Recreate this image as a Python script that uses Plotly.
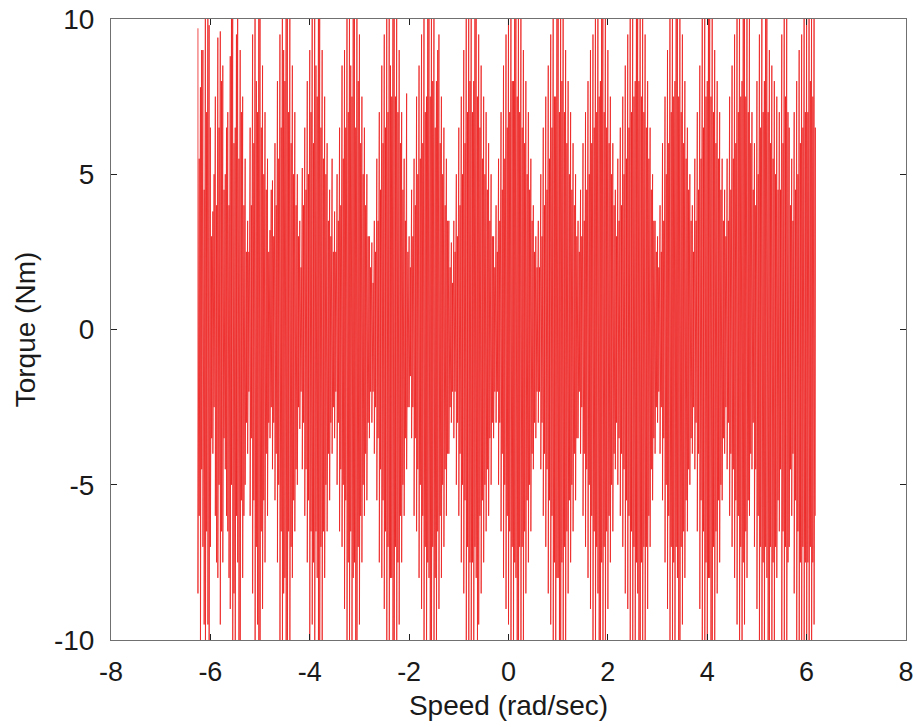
import plotly.graph_objects as go

# Speed sample positions (rad/sec) of the main peaks
speed = [
    -6.25, -6.20, -6.15, -6.10, -6.05, -6.00, -5.95, -5.90, -5.85, -5.80,
    -5.75, -5.70, -5.65, -5.60, -5.55, -5.50, -5.45, -5.40, -5.35, -5.30,
    -5.25, -5.20, -5.15, -5.10, -5.05, -5.00, -4.95, -4.90, -4.85, -4.80,
    -4.75, -4.70, -4.65, -4.60, -4.55, -4.50, -4.45, -4.40, -4.35, -4.30,
    -4.25, -4.20, -4.15, -4.10, -4.05, -4.00, -3.95, -3.90, -3.85, -3.80,
    -3.75, -3.70, -3.65, -3.60, -3.55, -3.50, -3.45, -3.40, -3.35, -3.30,
    -3.25, -3.20, -3.15, -3.10, -3.05, -3.00, -2.95, -2.90, -2.85, -2.80,
    -2.75, -2.70, -2.65, -2.60, -2.55, -2.50, -2.45, -2.40, -2.35, -2.30,
    -2.25, -2.20, -2.15, -2.10, -2.05, -2.00, -1.95, -1.90, -1.85, -1.80,
    -1.75, -1.70, -1.65, -1.60, -1.55, -1.50, -1.45, -1.40, -1.35, -1.30,
    -1.25, -1.20, -1.15, -1.10, -1.05, -1.00, -0.95, -0.90, -0.85, -0.80,
    -0.75, -0.70, -0.65, -0.60, -0.55, -0.50, -0.45, -0.40, -0.35, -0.30,
    -0.25, -0.20, -0.15, -0.10, -0.05, 0.00, 0.05, 0.10, 0.15, 0.20,
    0.25, 0.30, 0.35, 0.40, 0.45, 0.50, 0.55, 0.60, 0.65, 0.70,
    0.75, 0.80, 0.85, 0.90, 0.95, 1.00, 1.05, 1.10, 1.15, 1.20,
    1.25, 1.30, 1.35, 1.40, 1.45, 1.50, 1.55, 1.60, 1.65, 1.70,
    1.75, 1.80, 1.85, 1.90, 1.95, 2.00, 2.05, 2.10, 2.15, 2.20,
    2.25, 2.30, 2.35, 2.40, 2.45, 2.50, 2.55, 2.60, 2.65, 2.70,
    2.75, 2.80, 2.85, 2.90, 2.95, 3.00, 3.05, 3.10, 3.15, 3.20,
    3.25, 3.30, 3.35, 3.40, 3.45, 3.50, 3.55, 3.60, 3.65, 3.70,
    3.75, 3.80, 3.85, 3.90, 3.95, 4.00, 4.05, 4.10, 4.15, 4.20,
    4.25, 4.30, 4.35, 4.40, 4.45, 4.50, 4.55, 4.60, 4.65, 4.70,
    4.75, 4.80, 4.85, 4.90, 4.95, 5.00, 5.05, 5.10, 5.15, 5.20,
    5.25, 5.30, 5.35, 5.40, 5.45, 5.50, 5.55, 5.60, 5.65, 5.70,
    5.75, 5.80, 5.85, 5.90, 5.95, 6.00, 6.05, 6.10, 6.15,
]

# Speed sample positions (rad/sec) of the secondary peaks
speed_mid = [
    -6.225, -6.175, -6.125, -6.075, -6.025, -5.975, -5.925, -5.875, -5.825, -5.775,
    -5.725, -5.675, -5.625, -5.575, -5.525, -5.475, -5.425, -5.375, -5.325, -5.275,
    -5.225, -5.175, -5.125, -5.075, -5.025, -4.975, -4.925, -4.875, -4.825, -4.775,
    -4.725, -4.675, -4.625, -4.575, -4.525, -4.475, -4.425, -4.375, -4.325, -4.275,
    -4.225, -4.175, -4.125, -4.075, -4.025, -3.975, -3.925, -3.875, -3.825, -3.775,
    -3.725, -3.675, -3.625, -3.575, -3.525, -3.475, -3.425, -3.375, -3.325, -3.275,
    -3.225, -3.175, -3.125, -3.075, -3.025, -2.975, -2.925, -2.875, -2.825, -2.775,
    -2.725, -2.675, -2.625, -2.575, -2.525, -2.475, -2.425, -2.375, -2.325, -2.275,
    -2.225, -2.175, -2.125, -2.075, -2.025, -1.975, -1.925, -1.875, -1.825, -1.775,
    -1.725, -1.675, -1.625, -1.575, -1.525, -1.475, -1.425, -1.375, -1.325, -1.275,
    -1.225, -1.175, -1.125, -1.075, -1.025, -0.975, -0.925, -0.875, -0.825, -0.775,
    -0.725, -0.675, -0.625, -0.575, -0.525, -0.475, -0.425, -0.375, -0.325, -0.275,
    -0.225, -0.175, -0.125, -0.075, -0.025, 0.025, 0.075, 0.125, 0.175, 0.225,
    0.275, 0.325, 0.375, 0.425, 0.475, 0.525, 0.575, 0.625, 0.675, 0.725,
    0.775, 0.825, 0.875, 0.925, 0.975, 1.025, 1.075, 1.125, 1.175, 1.225,
    1.275, 1.325, 1.375, 1.425, 1.475, 1.525, 1.575, 1.625, 1.675, 1.725,
    1.775, 1.825, 1.875, 1.925, 1.975, 2.025, 2.075, 2.125, 2.175, 2.225,
    2.275, 2.325, 2.375, 2.425, 2.475, 2.525, 2.575, 2.625, 2.675, 2.725,
    2.775, 2.825, 2.875, 2.925, 2.975, 3.025, 3.075, 3.125, 3.175, 3.225,
    3.275, 3.325, 3.375, 3.425, 3.475, 3.525, 3.575, 3.625, 3.675, 3.725,
    3.775, 3.825, 3.875, 3.925, 3.975, 4.025, 4.075, 4.125, 4.175, 4.225,
    4.275, 4.325, 4.375, 4.425, 4.475, 4.525, 4.575, 4.625, 4.675, 4.725,
    4.775, 4.825, 4.875, 4.925, 4.975, 5.025, 5.075, 5.125, 5.175, 5.225,
    5.275, 5.325, 5.375, 5.425, 5.475, 5.525, 5.575, 5.625, 5.675, 5.725,
    5.775, 5.825, 5.875, 5.925, 5.975, 6.025, 6.075, 6.125, 6.175,
]

# Main positive torque peaks (Nm)
torque_hi = [
    9.7, 7.8, 9.0, 11.5, 10.8, 6.5, 3.8, 7.5, 9.4, 9.6,
    8.5, 5.0, 7.0, 8.8, 11.0, 6.5, 11.2, 9.0, 7.5, 5.5,
    3.5, 6.5, 9.5, 11.0, 7.0, 11.2, 8.5, 7.0, 5.5, 3.2,
    4.8, 6.0, 8.0, 9.5, 11.0, 8.0, 11.3, 10.5, 8.5, 7.0,
    5.0, 3.5, 5.2, 6.5, 8.0, 9.0, 10.5, 11.2, 7.5, 10.5,
    9.0, 7.5, 6.0, 4.5, 5.5, 3.8, 5.0, 6.5, 8.5, 9.0,
    10.5, 11.2, 7.5, 10.8, 11.0, 9.5, 7.5, 6.5, 5.0, 3.0,
    2.8, 3.5, 5.5, 7.0, 8.5, 9.5, 10.5, 11.2, 7.5, 11.3,
    10.5, 9.0, 7.0, 5.5, 7.6, 3.0, 4.5, 5.5, 7.5, 8.5,
    9.5, 10.8, 7.5, 11.0, 11.3, 10.5, 8.0, 9.5, 7.5, 6.5,
    5.5, 3.5, 2.8, 3.5, 5.0, 6.5, 7.5, 9.0, 10.5, 11.2,
    11.0, 8.0, 11.3, 9.5, 8.5, 7.5, 7.0, 6.0, 5.0, 3.0,
    4.0, 5.5, 7.0, 8.5, 9.5, 10.5, 11.2, 8.0, 11.3, 10.5,
    10.0, 9.0, 8.0, 7.0, 5.5, 4.0, 3.0, 3.5, 5.0, 6.5,
    7.5, 8.5, 9.5, 11.0, 7.5, 10.8, 11.2, 10.5, 9.0, 8.0,
    7.0, 6.0, 5.0, 3.5, 4.5, 6.0, 7.0, 8.0, 9.0, 9.5,
    10.5, 11.2, 8.0, 11.3, 10.5, 9.0, 7.5, 6.0, 4.5, 5.5,
    6.5, 7.5, 8.5, 9.5, 10.5, 11.2, 8.0, 11.3, 11.0, 10.5,
    9.5, 8.0, 6.5, 5.0, 3.5, 3.0, 4.0, 6.0, 7.5, 9.0,
    10.5, 11.2, 8.0, 11.3, 10.8, 9.5, 8.0, 6.5, 5.0, 4.0,
    5.5, 7.0, 8.5, 10.0, 11.0, 8.0, 11.3, 10.5, 9.0, 8.0,
    7.0, 5.5, 4.5, 5.5, 7.5, 8.5, 9.5, 10.5, 11.2, 8.0,
    11.0, 10.8, 11.2, 7.0, 6.0, 8.0, 9.5, 11.0, 8.0, 10.5,
    9.0, 8.5, 8.0, 7.5, 7.0, 9.5, 11.0, 11.2, 6.5, 5.5,
    7.0, 8.0, 9.0, 9.5, 10.0, 10.5, 11.2, 11.0, 10.5,
]

# Main negative torque peaks (Nm)
torque_lo = [
    -8.5, -10.5, -7.0, -11.0, -9.5, -7.0, -4.0, -6.0, -8.0, -9.5,
    -7.5, -4.5, -6.5, -9.0, -10.5, -11.0, -7.5, -10.8, -8.0, -5.0,
    -4.0, -6.0, -8.5, -11.0, -9.5, -10.5, -9.0, -7.5, -6.0, -3.5,
    -4.5, -5.5, -7.5, -10.5, -11.0, -8.0, -11.0, -10.5, -8.0, -6.5,
    -5.0, -3.2, -4.5, -6.0, -7.5, -10.5, -9.5, -11.0, -8.0, -10.8,
    -10.5, -8.0, -6.5, -5.5, -4.0, -3.5, -5.0, -6.5, -7.0, -9.0,
    -10.0, -11.0, -10.5, -7.5, -11.0, -9.5, -7.5, -6.0, -5.5, -3.5,
    -3.0, -4.0, -5.5, -7.5, -8.0, -9.0, -10.5, -11.0, -8.0, -10.5,
    -11.0, -9.5, -7.5, -6.0, -4.5, -2.5, -3.5, -6.0, -6.5, -8.0,
    -9.0, -10.5, -11.0, -8.0, -10.8, -11.0, -10.5, -9.0, -8.0, -7.0,
    -6.0, -4.0, -3.0, -3.5, -5.0, -6.0, -7.5, -8.5, -10.5, -11.0,
    -10.8, -11.2, -8.0, -9.5, -8.5, -7.5, -6.5, -6.0, -5.0, -3.5,
    -3.0, -5.0, -6.5, -8.0, -9.0, -9.5, -10.5, -11.0, -8.0, -11.2,
    -11.0, -10.0, -8.5, -7.5, -6.5, -4.5, -3.5, -3.0, -4.5, -6.0,
    -7.0, -8.5, -9.5, -10.5, -11.0, -8.0, -11.0, -10.8, -10.0, -8.5,
    -7.5, -6.5, -5.5, -3.5, -4.0, -6.0, -7.0, -8.0, -9.0, -10.5,
    -11.0, -8.5, -10.8, -11.0, -10.5, -9.0, -7.5, -6.5, -4.5, -5.0,
    -6.0, -7.0, -8.5, -9.0, -10.0, -10.5, -11.0, -8.5, -11.0, -10.8,
    -11.0, -9.0, -7.0, -5.5, -4.0, -3.0, -4.0, -5.5, -7.5, -9.0,
    -10.5, -11.0, -11.2, -8.0, -10.8, -9.5, -8.0, -6.5, -5.0, -4.0,
    -4.5, -6.5, -9.0, -10.5, -11.0, -11.2, -8.0, -10.8, -10.5, -8.5,
    -7.5, -5.5, -4.0, -4.5, -6.0, -7.0, -8.0, -9.5, -10.8, -11.0,
    -9.5, -8.0, -6.0, -4.5, -7.0, -9.0, -10.5, -11.0, -11.2, -8.0,
    -10.8, -11.0, -10.5, -8.0, -6.5, -10.0, -11.0, -10.5, -7.0, -6.0,
    -8.5, -10.5, -11.0, -10.5, -11.0, -11.2, -10.8, -11.0, -9.5,
]

# Secondary positive torque peaks (Nm)
torque_hi2 = [
    5.5, 9.0, 4.5, 7.0, 9.8, 3.0, 5.0, 4.0, 6.5, 8.0,
    4.5, 6.5, 4.0, 10.0, 6.0, 9.5, 5.5, 7.0, 4.0, 2.5,
    2.5, 4.0, 6.0, 8.0, 10.0, 6.5, 5.0, 4.5, 2.5, 4.5,
    3.0, 4.0, 5.5, 6.5, 9.0, 10.5, 7.0, 6.0, 5.0, 4.0,
    3.0, 2.0, 4.0, 4.5, 5.0, 7.0, 6.0, 8.5, 10.0, 6.5,
    5.5, 5.0, 3.5, 3.0, 2.5, 2.5, 3.5, 4.0, 5.5, 6.5,
    7.0, 8.5, 10.0, 6.5, 8.0, 6.0, 5.0, 4.0, 3.0, 2.0,
    1.5, 2.5, 3.5, 4.5, 6.0, 6.5, 7.0, 8.5, 10.5, 7.5,
    7.0, 6.0, 4.5, 3.5, 2.5, 2.0, 3.0, 4.0, 5.0, 5.5,
    6.0, 7.0, 10.0, 7.5, 8.0, 6.5, 9.0, 6.0, 5.0, 4.0,
    3.5, 2.0, 1.5, 2.5, 3.0, 4.0, 5.0, 6.0, 7.0, 8.0,
    7.0, 10.5, 7.5, 6.5, 5.5, 5.0, 4.5, 3.5, 3.0, 2.0,
    2.5, 3.5, 4.5, 5.5, 6.5, 7.0, 8.0, 10.5, 7.5, 7.0,
    6.5, 6.0, 5.0, 4.5, 3.5, 2.5, 2.0, 2.0, 3.0, 4.0,
    4.5, 5.5, 6.5, 7.5, 10.5, 7.0, 8.0, 7.0, 6.0, 5.0,
    4.5, 4.0, 3.0, 2.5, 3.0, 3.5, 4.5, 5.0, 6.0, 6.5,
    7.0, 7.5, 10.5, 7.0, 6.5, 6.0, 5.0, 4.0, 3.0, 3.5,
    4.0, 5.0, 5.5, 6.5, 7.0, 7.5, 10.5, 8.0, 7.5, 7.0,
    6.5, 5.5, 4.5, 3.5, 2.5, 2.0, 2.5, 3.5, 5.0, 6.0,
    7.0, 7.5, 10.5, 7.5, 7.0, 6.0, 5.5, 4.5, 3.5, 2.5,
    3.5, 4.5, 5.5, 6.5, 7.5, 10.5, 7.5, 7.0, 6.0, 5.5,
    4.5, 3.5, 3.0, 3.5, 4.5, 5.5, 6.0, 7.0, 7.5, 10.5,
    7.5, 7.0, 6.0, 4.5, 4.0, 5.0, 6.5, 7.0, 10.5, 7.0,
    6.0, 5.5, 5.0, 4.5, 4.5, 6.0, 7.5, 7.0, 4.0, 3.5,
    4.5, 5.0, 6.0, 6.5, 7.0, 7.0, 8.0, 7.5, 6.5,
]

# Secondary negative torque peaks (Nm)
torque_lo2 = [
    -6.0, -4.5, -9.5, -6.5, -10.0, -3.5, -2.5, -7.5, -5.0, -6.5,
    -3.5, -6.0, -8.0, -5.0, -8.5, -6.0, -10.0, -5.5, -6.0, -3.0,
    -2.0, -3.5, -5.5, -7.0, -11.0, -6.5, -5.5, -4.0, -3.0, -2.5,
    -3.0, -4.0, -5.0, -6.5, -8.5, -10.5, -6.5, -7.0, -5.5, -4.5,
    -2.5, -2.0, -3.0, -4.5, -5.5, -6.5, -7.5, -6.5, -10.5, -7.0,
    -6.5, -5.0, -4.0, -3.0, -2.5, -2.0, -3.0, -4.5, -5.0, -5.5,
    -7.5, -6.5, -8.0, -10.5, -7.0, -6.0, -5.0, -4.0, -3.0, -2.0,
    -2.0, -2.5, -3.5, -4.5, -5.5, -6.5, -7.0, -8.0, -10.5, -7.0,
    -7.5, -6.0, -5.0, -3.5, -2.5, -1.5, -2.5, -3.5, -4.5, -5.0,
    -6.0, -7.0, -7.5, -10.5, -7.0, -8.0, -6.5, -6.0, -5.0, -4.5,
    -4.0, -2.5, -2.0, -2.0, -3.0, -4.0, -5.0, -5.5, -7.0, -7.5,
    -7.5, -7.0, -10.5, -6.0, -5.5, -5.0, -4.5, -3.5, -3.0, -2.0,
    -2.0, -3.0, -4.0, -5.0, -6.0, -6.5, -7.0, -7.5, -10.5, -7.0,
    -7.0, -6.5, -5.5, -5.0, -4.0, -3.0, -2.0, -2.0, -3.0, -4.0,
    -4.5, -5.5, -6.0, -7.5, -8.0, -10.5, -7.5, -7.0, -6.5, -5.5,
    -5.0, -4.0, -3.5, -2.0, -2.5, -4.0, -4.5, -5.0, -6.0, -6.5,
    -7.0, -10.5, -7.5, -7.0, -6.5, -6.0, -5.0, -4.0, -3.0, -3.5,
    -4.0, -4.5, -5.5, -6.0, -6.5, -7.0, -7.5, -10.5, -7.5, -7.0,
    -7.0, -6.0, -4.5, -3.5, -2.5, -2.0, -2.5, -3.5, -5.0, -6.0,
    -7.0, -7.5, -7.0, -10.5, -7.0, -6.5, -5.5, -4.5, -3.5, -2.5,
    -3.0, -4.0, -5.5, -6.5, -7.5, -8.0, -10.5, -7.0, -6.5, -5.5,
    -5.0, -3.5, -2.5, -3.0, -4.0, -4.5, -5.5, -6.0, -7.0, -7.5,
    -6.5, -5.5, -4.0, -3.0, -4.5, -6.0, -7.0, -7.5, -7.0, -10.5,
    -7.0, -7.5, -7.0, -5.5, -4.5, -6.5, -7.0, -7.5, -4.5, -4.0,
    -5.5, -6.5, -7.5, -7.0, -7.5, -7.5, -7.0, -7.5, -6.0,
]

x_ticks = [-8, -6, -4, -2, 0, 2, 4, 6, 8]
y_ticks = [-10, -5, 0, 5, 10]

# one continuous trace: main peak pair, then secondary peak pair
xs, ys = [], []
for s, h, l, m, h2, l2 in zip(speed, torque_hi, torque_lo,
                              speed_mid, torque_hi2, torque_lo2):
    xs += [s, s, m, m]
    ys += [h, l, h2, l2]

fig = go.Figure()
fig.add_trace(go.Scatter(
    x=xs, y=ys, mode="lines",
    line=dict(color="rgb(236,32,30)", width=0.8),
    hoverinfo="skip", showlegend=False,
))

font_family = "Liberation Sans, Arial, sans-serif"
axis_common = dict(
    showgrid=False, zeroline=False, automargin=False,
    showline=True, linecolor="#707070", linewidth=1,
    mirror="ticks", ticks="inside", ticklen=6, tickcolor="#222",
    tickwidth=1,
)

fig.update_layout(
    width=917, height=727,
    margin=dict(l=111, r=11, t=19, b=87),
    paper_bgcolor="white", plot_bgcolor="white",
    font=dict(family=font_family, color="#1a1a1a"),
    xaxis=dict(
        range=[-8, 8], tickvals=x_ticks,
        ticktext=[str(v) for v in x_ticks],
        tickfont=dict(size=27), ticklabelstandoff=8,
        title=dict(text="Speed (rad/sec)", font=dict(size=28), standoff=8),
        **axis_common,
    ),
    yaxis=dict(
        range=[-10, 10], tickvals=y_ticks,
        ticktext=[str(v) for v in y_ticks],
        tickfont=dict(size=28), ticklabelstandoff=10,
        title=dict(text="Torque (Nm)", font=dict(size=28), standoff=10),
        **axis_common,
    ),
)

fig.write_html("out.html")
